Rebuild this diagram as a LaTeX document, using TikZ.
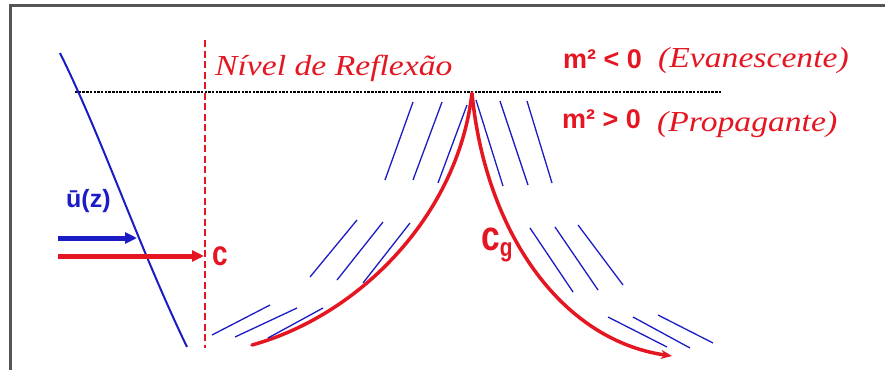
\documentclass[tikz,border=0pt]{standalone}
\usepackage{fontspec}
\setmainfont{Liberation Serif}
\newfontfamily\capfont[FakeStretch=1.16]{Liberation Serif Italic}
\newfontfamily\labfont{Liberation Sans Bold}
\newfontfamily\narrowfont[FakeStretch=0.8]{Liberation Sans Bold}
\usepackage{tikz}
\usetikzlibrary{arrows.meta}
\definecolor{wavered}{RGB}{228,22,34}
\definecolor{waveblue}{RGB}{28,28,196}
\definecolor{framegray}{RGB}{85,85,85}

\begin{document}
\begin{tikzpicture}[x=1pt, y=-1pt,
    serif/.style={text=wavered, font=\capfont\fontsize{29}{29}\selectfont, inner sep=0pt, anchor=base west},
    sans/.style={font=\labfont\fontsize{27}{27}\selectfont, inner sep=0pt, anchor=base west},
    ray/.style={waveblue, line width=1.3pt}]
  \useasboundingbox (0,0) rectangle (885,370);
  % Frame
  \draw[framegray, line width=3pt] (10,370) -- (10,5) -- (885,5);
  % Reflection level
  \draw[black, line width=1.5pt, dash pattern=on 2.5pt off 1.2pt] (75,92) -- (722,92);
  \draw[wavered, line width=1.6pt, dash pattern=on 7pt off 3.5pt] (205,40) -- (205,348);
  \node[serif] (nivel) at (215,75) {Nível de Reflexão};
  \node[sans, text=wavered] (mneg) at (563,68) {m² < 0};
  \node[serif] (evan) at (658,67) {(Evanescente)};
  \node[sans, text=wavered] (mpos) at (562,128) {m² > 0};
  \node[serif] (prop) at (657,131) {(Propagante)};
  % Wind profile
  \draw[waveblue, line width=2pt] (60,53) .. controls (103,140) and (138,245) .. (187,347);
  \node[sans, text=waveblue, font=\labfont\fontsize{25}{25}\selectfont] (ubar) at (66,207) {ū(z)};
  \coordinate (ua) at (58,238);
  \coordinate (ub) at (137,238);
  \coordinate (ca) at (58,256);
  \coordinate (cb) at (204,256);
  \draw[waveblue, line width=5pt, -{Triangle[length=12pt,width=11pt]}] (ua) -- (ub);
  \draw[wavered, line width=5pt, -{Triangle[length=12pt,width=11pt]}] (ca) -- (cb);
  \node[sans, text=wavered, font=\narrowfont\fontsize{35}{35}\selectfont] (cphase) at (212,265) {c};
  % Group velocity path
  \coordinate (peak) at (472,93);
  \coordinate (lend) at (252,345);
  \coordinate (rend) at (672,356);
  \draw[wavered, line width=3.5pt, line cap=round] (lend) .. controls (360,315) and (458,215) .. (peak);
  \draw[wavered, line width=3.5pt, -{Stealth[length=11pt,width=9pt]}] (peak) .. controls (485,230) and (560,340) .. (rend);
  \node[sans, text=wavered, font=\narrowfont\fontsize{42}{42}\selectfont] (cg) at (481,250)
    {c\raisebox{-6pt}{\fontsize{26}{26}\selectfont g}};
  % Wave crests, left side
  \draw[ray] (385,180) -- (413,102) (413,180) -- (442,102) (438,183) -- (467,105);
  \draw[ray] (310,277) -- (357,220) (337,280) -- (383,222) (363,283) -- (410,223);
  \draw[ray] (212,335) -- (270,305) (235,337) -- (297,308) (268,338) -- (323,308);
  % Wave crests, right side
  \draw[ray] (476,100) -- (503,186) (500,101) -- (528,185) (527,101) -- (552,183);
  \draw[ray] (530,228) -- (573,292) (555,227) -- (598,290) (578,225) -- (623,285);
  \draw[ray] (608,317) -- (667,347) (633,317) -- (690,348) (658,315) -- (713,343);
\end{tikzpicture}
\end{document}
